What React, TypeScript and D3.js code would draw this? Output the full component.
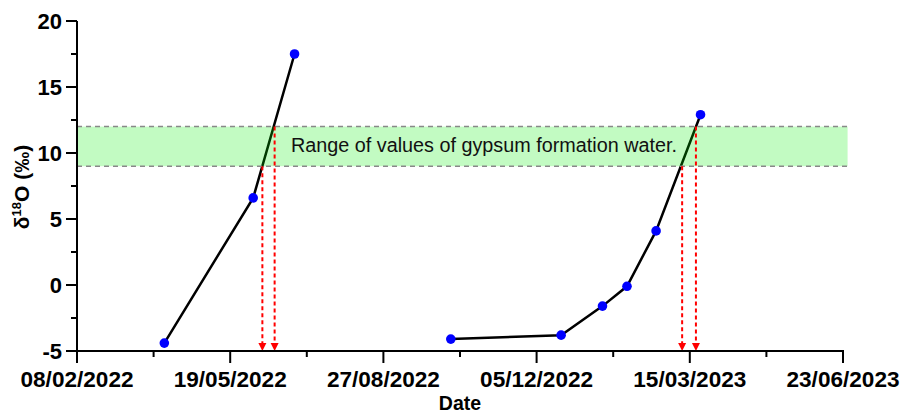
import React from "react";
import * as d3 from "d3";

const sampleDates = [
  "2022-04-06", "2022-06-03", "2022-06-30",
  "2022-10-10", "2022-12-21", "2023-01-17", "2023-02-02", "2023-02-21", "2023-03-22",
];
const d18O = [-4.4, 6.6, 17.5, -4.1, -3.8, -1.6, -0.1, 4.1, 12.9];
const seriesGroup = [0, 0, 0, 1, 1, 1, 1, 1, 1];

const xTickDates = ["2022-02-08", "2022-05-19", "2022-08-27", "2022-12-05", "2023-03-15", "2023-06-23"];
const xTickLabels = ["08/02/2022", "19/05/2022", "27/08/2022", "05/12/2022", "15/03/2023", "23/06/2023"];
const yTicks = [-5, 0, 5, 10, 15, 20];
const yMinorTicks = [-2.5, 2.5, 7.5, 12.5, 17.5];

const bandRange = [9, 12];
const bandDates = ["2022-02-08", "2023-06-26"];
const bandLabel = "Range of values of gypsum formation water.";

const arrowDates = ["2022-06-09", "2022-06-17", "2023-03-10", "2023-03-19"];
const arrowStart = [9, 12, 9, 12];

const parse = (s: string) => new Date(s + "T00:00:00Z");
const FONT = "'Liberation Sans', Arial, sans-serif";

export default function App() {
  const W = 901, H = 414;
  const x = d3.scaleUtc().domain([parse(xTickDates[0]), parse(xTickDates[xTickDates.length - 1])]).range([77, 843]);
  const y = d3.scaleLinear().domain([-5, 20]).range([351, 21]);

  const minorX: Date[] = [];
  for (let i = 0; i < xTickDates.length - 1; i++) {
    const a = parse(xTickDates[i]).getTime(), b = parse(xTickDates[i + 1]).getTime();
    minorX.push(new Date((a + b) / 2));
  }

  const pts = sampleDates.map((d, i) => ({ d: parse(d), v: d18O[i], g: seriesGroup[i] }));
  const line = d3.line<{ d: Date; v: number }>().x(p => x(p.d)).y(p => y(p.v));
  const groups = d3.groups(pts, p => p.g).map(g => g[1]);

  const bx0 = x(parse(bandDates[0])), bx1 = x(parse(bandDates[1]));
  const by0 = y(bandRange[1]), by1 = y(bandRange[0]);
  const axisY = y(-5);

  return (
    <svg width={W} height={H} style={{ position: "fixed", left: 0, top: 0, background: "#fff" }} fontFamily={FONT}>
      <rect x={0} y={0} width={W} height={H} fill="#fff" />
      {groups.map((g, i) => (
        <path key={i} d={line(g) || ""} fill="none" stroke="#000" strokeWidth={2.5} />
      ))}
      <rect x={bx0} y={by0} width={bx1 - bx0} height={by1 - by0} fill="rgb(0,240,0)" fillOpacity={0.24} />
      <line x1={bx0} x2={bx1} y1={by0} y2={by0} stroke="#888" strokeWidth={1.5} strokeDasharray="5,4" />
      <line x1={bx0} x2={bx1} y1={by1} y2={by1} stroke="#888" strokeWidth={1.5} strokeDasharray="5,4" />
      <text x={291} y={152} fontSize={19.5} fill="#111" textLength={386} lengthAdjust="spacingAndGlyphs">{bandLabel}</text>
      {arrowDates.map((d, i) => {
        const ax = x(parse(d));
        const ay = y(arrowStart[i]);
        return (
          <g key={i}>
            <line x1={ax} x2={ax} y1={ay} y2={axisY - 7} stroke="#ff0000" strokeWidth={2} strokeDasharray="4,3" />
            <path d={`M${ax - 4},${axisY - 8} L${ax + 4},${axisY - 8} L${ax},${axisY} Z`} fill="#ff0000" />
          </g>
        );
      })}
      {pts.map((p, i) => (
        <circle key={i} cx={x(p.d)} cy={y(p.v)} r={4.8} fill="#0000ff" />
      ))}
      <line x1={77} x2={77} y1={y(20)} y2={axisY + 1} stroke="#000" strokeWidth={2} />
      {yTicks.map(t => (
        <g key={t}>
          <line x1={66} x2={77} y1={y(t)} y2={y(t)} stroke="#000" strokeWidth={2} />
          <text x={62} y={y(t) + 8} textAnchor="end" fontSize={22} fontWeight="bold" fill="#000">{t}</text>
        </g>
      ))}
      {yMinorTicks.map(t => (
        <line key={t} x1={71} x2={77} y1={y(t)} y2={y(t)} stroke="#000" strokeWidth={2} />
      ))}
      <line x1={76} x2={844} y1={axisY} y2={axisY} stroke="#000" strokeWidth={2} />
      {xTickDates.map((d, i) => (
        <g key={d}>
          <line x1={x(parse(d))} x2={x(parse(d))} y1={axisY} y2={axisY + 12} stroke="#000" strokeWidth={2} />
          <text x={x(parse(d))} y={387} textAnchor="middle" fontSize={22} fontWeight="bold" fill="#000" textLength={113} lengthAdjust="spacingAndGlyphs">{xTickLabels[i]}</text>
        </g>
      ))}
      {minorX.map((d, i) => (
        <line key={i} x1={x(d)} x2={x(d)} y1={axisY} y2={axisY + 6} stroke="#000" strokeWidth={2} />
      ))}
      <text x={460} y={410} textAnchor="middle" fontSize={19.5} fontWeight="bold" fill="#000">Date</text>
      <text transform={`translate(29,187) rotate(-90)`} textAnchor="middle" fontSize={21} fontWeight="bold" fill="#000">
        δ<tspan fontSize={13} dy={-8}>18</tspan><tspan dy={8}>O (‰)</tspan>
      </text>
    </svg>
  );
}
